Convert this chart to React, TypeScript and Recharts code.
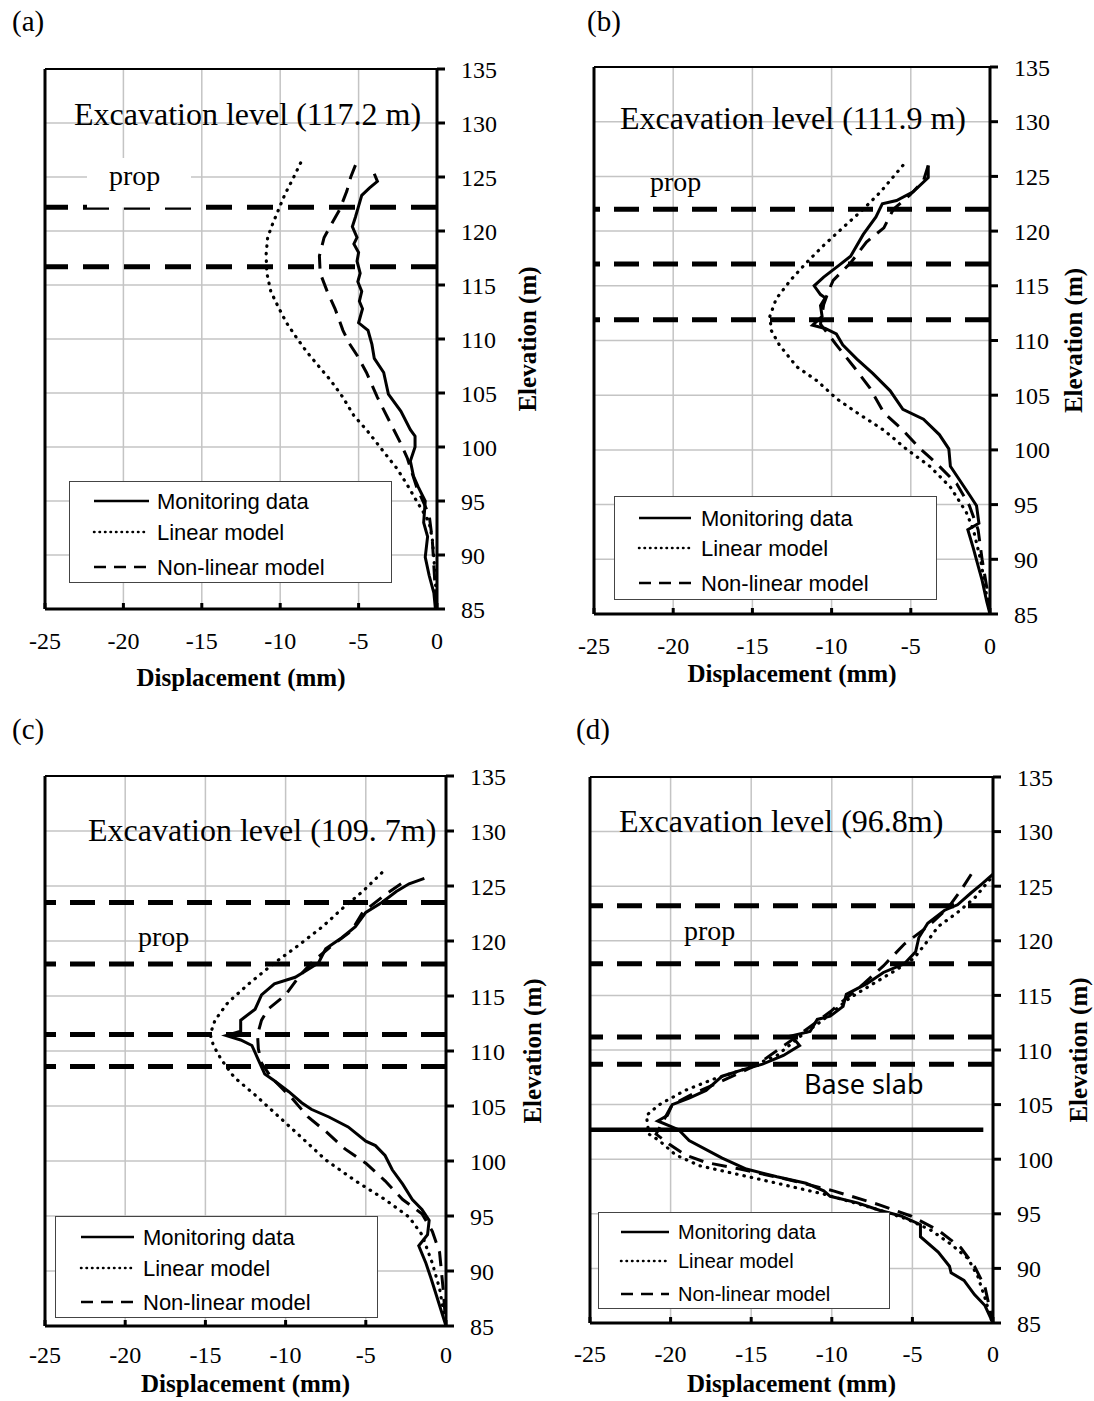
import React from 'react';
import { ScatterChart, Scatter, XAxis, YAxis, CartesianGrid, ReferenceLine, Legend } from 'recharts';

type Pt = [number, number];

const SERIF = '"Liberation Serif", "Times New Roman", serif';
const SANS = '"Liberation Sans", Arial, sans-serif';

const xTicks = [-25, -20, -15, -10, -5, 0];
const yTicks = [85, 90, 95, 100, 105, 110, 115, 120, 125, 130, 135];
const seriesNames = ['Monitoring data', 'Linear model', 'Non-linear model'];
const xLabel = 'Displacement (mm)';
const yLabel = 'Elevation (m)';

// ---------- (a) excavation level 117.2 m ----------
const aMonitoring: Pt[] = [
  [-4.0, 125.3], [-3.8, 124.6], [-4.3, 124.0], [-4.8, 123.3], [-5.0, 122.3], [-5.2, 121.3], [-5.4, 120.4],
  [-5.1, 119.4], [-5.3, 118.8], [-5.0, 118.0], [-5.1, 117.2], [-4.9, 116.1], [-5.05, 115.3], [-4.8, 114.4],
  [-4.95, 113.5], [-4.75, 112.8], [-5.0, 111.5], [-4.4, 110.8], [-4.15, 109.5], [-4.0, 108.2], [-3.4, 106.9],
  [-3.1, 104.9], [-2.3, 103.3], [-1.7, 101.6], [-1.4, 101.0], [-1.4, 100.0], [-1.7, 98.7], [-1.5, 97.3],
  [-1.2, 96.3], [-0.75, 95.0], [-0.85, 93.0], [-0.6, 91.7], [-0.75, 89.8], [-0.5, 88.1], [-0.2, 86.5], [-0.1, 85.0],
];
const aLinear: Pt[] = [
  [-8.7, 126.3], [-9.2, 124.8], [-9.7, 123.4], [-10.1, 122.0], [-10.5, 120.6], [-10.8, 119.4], [-10.9, 117.8],
  [-10.85, 116.1], [-10.6, 114.4], [-10.1, 112.9], [-9.6, 111.5], [-8.9, 110.0], [-8.3, 108.8], [-7.5, 107.4],
  [-6.8, 106.2], [-6.0, 104.6], [-5.3, 102.9], [-4.5, 101.6], [-3.8, 100.3], [-3.1, 99.0], [-2.55, 98.0],
  [-1.9, 96.5], [-1.3, 95.0], [-0.8, 93.8], [-0.5, 93.0], [-0.3, 91.5], [-0.2, 89.8], [-0.1, 87.5], [0, 85],
];
const aNonLinear: Pt[] = [
  [-5.2, 126.1], [-5.5, 125.0], [-5.75, 123.7], [-6.2, 122.0], [-6.9, 120.2], [-7.2, 119.4], [-7.5, 117.7],
  [-7.45, 116.1], [-7.0, 114.4], [-6.5, 112.8], [-6.0, 110.8], [-5.6, 109.6], [-5.1, 108.5], [-4.5, 106.9],
  [-3.8, 104.6], [-3.0, 102.3], [-2.3, 100.3], [-1.9, 99.0], [-1.3, 96.3], [-0.5, 93.7], [-0.3, 91.4],
  [-0.2, 89.0], [-0.1, 86.5], [0, 85],
];
const aPropLevels = [122.2, 116.7];

// ---------- (b) excavation level 111.9 m ----------
const bMonitoring: Pt[] = [
  [-3.9, 126.0], [-3.9, 124.9], [-4.85, 123.6], [-5.9, 122.8], [-6.8, 122.5], [-7.2, 121.3], [-8.0, 119.7],
  [-8.8, 117.7], [-9.6, 116.8], [-10.5, 115.8], [-11.1, 115.0], [-10.7, 114.2], [-10.4, 113.9], [-10.7, 113.2],
  [-10.6, 112.2], [-11.2, 111.4], [-10.4, 111.1], [-9.7, 110.6], [-9.3, 109.6], [-8.4, 108.3], [-7.4, 107.0],
  [-6.3, 105.4], [-5.5, 103.7], [-4.2, 102.8], [-3.2, 101.4], [-2.6, 100.1], [-2.5, 98.5], [-1.9, 97.2],
  [-1.3, 95.9], [-0.85, 94.9], [-0.7, 93.3], [-1.4, 92.7], [-1.05, 91.0], [-0.75, 89.4], [-0.5, 88.1],
  [-0.2, 86.1], [0, 85],
];
const bLinear: Pt[] = [
  [-5.5, 126.0], [-6.9, 123.6], [-8.0, 122.0], [-9.3, 120.3], [-10.5, 118.7], [-11.6, 117.1], [-12.6, 115.5],
  [-13.5, 113.8], [-13.9, 112.2], [-13.8, 110.9], [-13.3, 109.6], [-12.2, 107.6], [-10.9, 106.3], [-9.7, 104.7],
  [-8.4, 103.4], [-6.7, 101.8], [-5.3, 100.1], [-3.8, 98.5], [-2.5, 96.6], [-1.5, 94.3], [-1.05, 92.7],
  [-0.6, 90.0], [-0.3, 87.4], [0, 85],
];
const bNonLinear: Pt[] = [
  [-3.9, 126.0], [-4.2, 124.6], [-5.05, 123.3], [-6.1, 122.0], [-6.7, 120.3], [-7.8, 119.0], [-8.8, 117.1],
  [-9.9, 115.5], [-10.2, 114.5], [-10.5, 113.3], [-10.7, 111.5], [-9.7, 109.6], [-8.6, 107.6], [-7.6, 105.7],
  [-6.7, 103.4], [-5.5, 101.8], [-4.4, 100.1], [-3.4, 98.8], [-2.1, 96.9], [-1.3, 94.9], [-0.75, 92.7],
  [-0.5, 90.0], [-0.2, 87.4], [0, 85],
];
const bPropLevels = [122.0, 117.0, 111.9];

// ---------- (c) excavation level 109.7 m ----------
const cMonitoring: Pt[] = [
  [-1.35, 125.7], [-2.3, 125.2], [-3.1, 124.5], [-4.0, 123.5], [-5.0, 122.6], [-5.65, 121.3], [-6.5, 120.3],
  [-7.5, 119.3], [-7.95, 118.0], [-9.4, 116.7], [-10.7, 116.1], [-11.5, 115.1], [-11.9, 113.8], [-12.8, 112.8],
  [-12.8, 111.8], [-13.7, 111.4], [-12.8, 111.0], [-12.1, 110.5], [-11.7, 109.2], [-11.3, 107.9], [-10.7, 107.3],
  [-9.8, 106.3], [-9.0, 105.3], [-8.4, 104.7], [-7.3, 104.0], [-6.1, 103.1], [-5.0, 101.8], [-4.4, 101.4],
  [-3.8, 100.5], [-3.35, 99.2], [-2.7, 97.9], [-2.1, 96.5], [-1.5, 95.6], [-1.05, 94.6], [-1.15, 93.3],
  [-1.7, 92.3], [-1.25, 90.7], [-0.95, 89.4], [-0.6, 87.8], [0, 85],
];
const cLinear: Pt[] = [
  [-4.0, 126.2], [-5.2, 124.5], [-6.5, 122.9], [-7.7, 121.3], [-9.2, 119.6], [-10.7, 118.0], [-12.3, 116.1],
  [-13.6, 114.4], [-14.4, 112.8], [-14.7, 111.5], [-14.5, 110.5], [-14.0, 109.2], [-13.2, 107.6], [-11.9, 106.0],
  [-10.7, 104.4], [-9.2, 102.4], [-7.5, 100.1], [-5.65, 98.2], [-3.8, 96.5], [-2.3, 94.9], [-1.5, 93.3],
  [-0.85, 90.7], [-0.4, 88.4], [0, 85],
];
const cNonLinear: Pt[] = [
  [-2.8, 125.2], [-3.8, 124.2], [-5.2, 122.6], [-5.9, 120.9], [-7.1, 119.6], [-8.4, 118.0], [-9.2, 116.7],
  [-10.0, 115.1], [-11.1, 113.8], [-11.5, 112.8], [-11.75, 111.5], [-11.7, 110.2], [-11.5, 108.9], [-10.9, 107.6],
  [-9.6, 105.7], [-8.6, 104.0], [-7.5, 102.7], [-6.3, 101.1], [-5.0, 99.8], [-3.8, 98.2], [-2.7, 96.5],
  [-1.5, 95.2], [-0.85, 93.6], [-0.4, 91.7], [-0.2, 88.7], [0, 85],
];
const cPropLevels = [123.5, 117.9, 111.5, 108.6];

// ---------- (d) excavation level 96.8 m ----------
const dMonitoring: Pt[] = [
  [0, 126.1], [-0.7, 125.2], [-1.35, 124.4], [-2.2, 123.3], [-3.0, 122.8], [-4.05, 121.6], [-4.6, 120.3],
  [-4.8, 119.0], [-5.5, 117.9], [-6.8, 117.1], [-7.8, 116.1], [-9.1, 115.1], [-9.3, 114.0], [-10.1, 113.1],
  [-10.9, 112.8], [-11.35, 111.7], [-12.5, 111.3], [-12.0, 110.4], [-13.0, 109.5], [-14.3, 108.7], [-15.5, 108.2],
  [-16.8, 107.6], [-17.8, 106.3], [-18.85, 105.6], [-19.9, 105.0], [-20.2, 104.0], [-20.8, 103.5], [-19.5, 102.7],
  [-18.85, 101.7], [-16.8, 100.1], [-15.3, 99.1], [-13.4, 98.4], [-11.6, 97.8], [-10.5, 97.1], [-10.1, 96.6],
  [-8.4, 96.0], [-7.0, 95.3], [-5.7, 94.8], [-4.5, 94.0], [-4.5, 92.9], [-3.4, 91.5], [-2.7, 90.2], [-2.6, 89.6],
  [-1.8, 88.9], [-1.15, 87.6], [-0.5, 86.6], [0, 85],
];
const dLinear: Pt[] = [
  [-0.2, 125.6], [-1.15, 123.9], [-2.2, 122.6], [-3.4, 121.3], [-4.05, 120.0], [-4.9, 118.4], [-6.15, 117.2],
  [-7.4, 116.1], [-8.85, 114.8], [-10.5, 112.8], [-12.0, 111.2], [-13.4, 109.5], [-15.5, 108.2], [-17.4, 107.3],
  [-19.1, 106.3], [-20.7, 105.0], [-21.5, 104.0], [-21.35, 102.3], [-20.7, 101.7], [-19.7, 100.4], [-18.2, 99.4],
  [-16.1, 98.7], [-13.4, 97.8], [-10.5, 96.8], [-7.4, 95.5], [-5.3, 94.5], [-3.85, 93.5], [-2.6, 92.2],
  [-1.55, 90.9], [-0.95, 89.3], [-0.5, 87.3], [-0.1, 85.3],
];
const dNonLinear: Pt[] = [
  [-1.35, 126.1], [-2.0, 124.6], [-2.8, 123.0], [-4.05, 121.3], [-5.5, 119.7], [-6.8, 117.7], [-8.0, 116.1],
  [-10.1, 113.5], [-12.2, 111.2], [-14.7, 108.6], [-16.6, 107.3], [-18.6, 106.0], [-19.9, 105.0], [-20.9, 102.3],
  [-20.1, 101.4], [-19.1, 100.4], [-17.8, 99.7], [-15.7, 99.1], [-12.6, 98.1], [-9.9, 97.1], [-7.0, 95.8],
  [-5.1, 94.8], [-3.4, 93.5], [-2.0, 91.9], [-1.15, 90.2], [-0.5, 88.3], [-0.2, 86.3], [0, 85],
];
const dPropLevels = [123.2, 117.9, 111.2, 108.7];
const dBaseSlab = 102.7;

// ---------- styles ----------
const lineStyles: Record<string, any> = {
  'Monitoring data': { stroke: '#000', strokeWidth: 3 },
  'Linear model': { stroke: '#000', strokeWidth: 3.2, strokeDasharray: '0.5 7', strokeLinecap: 'round' },
  'Non-linear model': { stroke: '#000', strokeWidth: 3, strokeDasharray: '15 9' },
};
const legendStyles: Record<string, any> = {
  'Monitoring data': { stroke: '#000', strokeWidth: 2.5 },
  'Linear model': { stroke: '#000', strokeWidth: 2.5, strokeDasharray: '0.5 5', strokeLinecap: 'round' },
  'Non-linear model': { stroke: '#000', strokeWidth: 2.5, strokeDasharray: '12 8' },
};

const toPts = (arr: Pt[]) => arr.map(([x, y]) => ({ x, y }));
const NoShape = () => <g />;

type PanelCfg = {
  plotLeft: number; plotTop: number; plotW: number; plotH: number;
  yLabelOff: number; xLabelOff: number; xTickMargin: number;
  data: Pt[][]; propLevels: number[]; baseSlab?: number; propDash: string;
  legend: { x: number; y: number; w: number; h: number; rows: number[]; lx1: number; lx2: number; tx: number; fs: number };
};

const panels: PanelCfg[] = [
  {
    plotLeft: 45, plotTop: 69, plotW: 392, plotH: 540, yLabelOff: 90, xLabelOff: 69, xTickMargin: 29,
    data: [aMonitoring, aLinear, aNonLinear], propLevels: aPropLevels, propDash: '26 15',
    legend: { x: 69, y: 481, w: 323, h: 102, rows: [19, 50, 85], lx1: 24, lx2: 79, tx: 87, fs: 22 },
  },
  {
    plotLeft: 594, plotTop: 67, plotW: 396, plotH: 547, yLabelOff: 83, xLabelOff: 60, xTickMargin: 29,
    data: [bMonitoring, bLinear, bNonLinear], propLevels: bPropLevels, propDash: '25 14',
    legend: { x: 614, y: 496, w: 323, h: 104, rows: [21, 51, 86], lx1: 24, lx2: 76, tx: 86, fs: 22 },
  },
  {
    plotLeft: 45, plotTop: 776, plotW: 401, plotH: 550, yLabelOff: 86, xLabelOff: 58, xTickMargin: 26,
    data: [cMonitoring, cLinear, cNonLinear], propLevels: cPropLevels, propDash: '25 14',
    legend: { x: 55, y: 1216, w: 323, h: 102, rows: [20, 51, 85], lx1: 25, lx2: 78, tx: 87, fs: 22 },
  },
  {
    plotLeft: 590, plotTop: 777, plotW: 403, plotH: 546, yLabelOff: 85, xLabelOff: 61, xTickMargin: 28,
    data: [dMonitoring, dLinear, dNonLinear], propLevels: dPropLevels, baseSlab: dBaseSlab, propDash: '25 14',
    legend: { x: 598, y: 1212, w: 292, h: 97, rows: [19, 48, 81], lx1: 22, lx2: 70, tx: 79, fs: 20 },
  },
];

const ML = 20;
const MT = 20;
const XH = 90;

function LegendBox({ lg }: { lg: PanelCfg['legend'] }) {
  return (
    <div style={{ width: lg.w, height: lg.h, border: '1px solid #444', background: '#fff', boxSizing: 'border-box' }}>
      <svg width={lg.w - 2} height={lg.h - 2} style={{ display: 'block' }}>
        {seriesNames.map((n, i) => (
          <g key={n}>
            <line x1={lg.lx1} x2={lg.lx2} y1={lg.rows[i]} y2={lg.rows[i]} {...legendStyles[n]} />
            <text x={lg.tx} y={lg.rows[i] + lg.fs * 0.36} fontFamily={SANS} fontSize={lg.fs} fill="#000">{n}</text>
          </g>
        ))}
      </svg>
    </div>
  );
}

function Panel({ cfg }: { cfg: PanelCfg }) {
  const YW = cfg.yLabelOff * 2;
  const width = ML + cfg.plotW + YW;
  const height = MT + cfg.plotH + XH;
  const lg = cfg.legend;
  const originX = cfg.plotLeft - ML;
  const originY = cfg.plotTop - MT;
  return (
    <div style={{ position: 'absolute', left: originX, top: originY }}>
      <ScatterChart width={width} height={height} margin={{ top: MT, left: ML, right: 0, bottom: 0 }}>
        <CartesianGrid stroke="#c4c4c4" strokeWidth={1.5} />
        <XAxis
          type="number" dataKey="x" domain={[-25, 0]} ticks={xTicks} interval={0} allowDataOverflow height={XH}
          tick={{ fontSize: 24, fontFamily: SERIF, fill: '#000' }} tickSize={-6} tickMargin={cfg.xTickMargin}
          axisLine={{ stroke: '#000', strokeWidth: 3 }} tickLine={{ stroke: '#000', strokeWidth: 3 }}
          label={{ value: xLabel, position: 'insideBottom', offset: XH - cfg.xLabelOff - 8, fontSize: 25, fontWeight: 'bold', fontFamily: SERIF, fill: '#000' }}
        />
        <YAxis
          type="number" dataKey="y" orientation="right" domain={[85, 135]} ticks={yTicks} interval={0} allowDataOverflow width={YW}
          tick={{ fontSize: 24, fontFamily: SERIF, fill: '#000', textAnchor: 'start' }} tickSize={8} tickMargin={16}
          axisLine={{ stroke: '#000', strokeWidth: 3 }} tickLine={{ stroke: '#000', strokeWidth: 3 }}
          label={{ value: yLabel, angle: -90, position: 'center', fontSize: 25, fontWeight: 'bold', fontFamily: SERIF, fill: '#000' }}
        />
        <ReferenceLine y={135} stroke="#000" strokeWidth={2} />
        <ReferenceLine x={-25} stroke="#000" strokeWidth={3} />
        {cfg.propLevels.map((p) => (
          <ReferenceLine key={p} y={p} stroke="#000" strokeWidth={5} strokeDasharray={cfg.propDash} />
        ))}
        {cfg.baseSlab !== undefined && (
          <ReferenceLine segment={[{ x: -25, y: cfg.baseSlab }, { x: -0.6, y: cfg.baseSlab }]} stroke="#000" strokeWidth={4.5} />
        )}
        {seriesNames.map((n, i) => (
          <Scatter
            key={n} name={n} data={toPts(cfg.data[i])} line={lineStyles[n]} lineType="joint"
            shape={NoShape} fill="#000" isAnimationActive={false}
          />
        ))}
        <Legend
          layout="vertical" align="center" verticalAlign="middle"
          wrapperStyle={{ left: lg.x - originX, top: lg.y - originY, width: lg.w, height: lg.h }}
          content={() => <LegendBox lg={lg} />}
        />
      </ScatterChart>
    </div>
  );
}

const panelLetters = [
  { t: '(a)', x: 12, y: 31 },
  { t: '(b)', x: 587, y: 31 },
  { t: '(c)', x: 12, y: 739 },
  { t: '(d)', x: 576, y: 739 },
];
const titles = [
  { t: 'Excavation level (117.2 m)', x: 74, y: 125 },
  { t: 'Excavation level (111.9 m)', x: 620, y: 129 },
  { t: 'Excavation level (109. 7m)', x: 88, y: 841 },
  { t: 'Excavation level (96.8m)', x: 619, y: 832 },
];
const propLabels = [
  { x: 109, y: 185 },
  { x: 650, y: 191 },
  { x: 138, y: 946 },
  { x: 684, y: 940 },
];

export default function App() {
  return (
    <div style={{ position: 'absolute', left: 0, top: 0, width: 1094, height: 1401, background: '#fff' }}>
      {panels.map((p, i) => <Panel key={i} cfg={p} />)}
      <svg width={1094} height={1401} style={{ position: 'absolute', left: 0, top: 0, pointerEvents: 'none' }}>
        <rect x={87} y={158} width={104} height={49.5} fill="#fff" />
        {panelLetters.map((l) => (
          <text key={l.t} x={l.x} y={l.y} fontFamily={SERIF} fontSize={29} fill="#000">{l.t}</text>
        ))}
        {titles.map((l) => (
          <text key={l.t} x={l.x} y={l.y} fontFamily={SERIF} fontSize={32} fill="#000">{l.t}</text>
        ))}
        {propLabels.map((l, i) => (
          <text key={i} x={l.x} y={l.y} fontFamily={SERIF} fontSize={28} fill="#000">prop</text>
        ))}
        <text x={804} y={1094} fontFamily={'"Noto Sans", "Open Sans", sans-serif'} fontSize={27} fill="#000">Base slab</text>
      </svg>
    </div>
  );
}
